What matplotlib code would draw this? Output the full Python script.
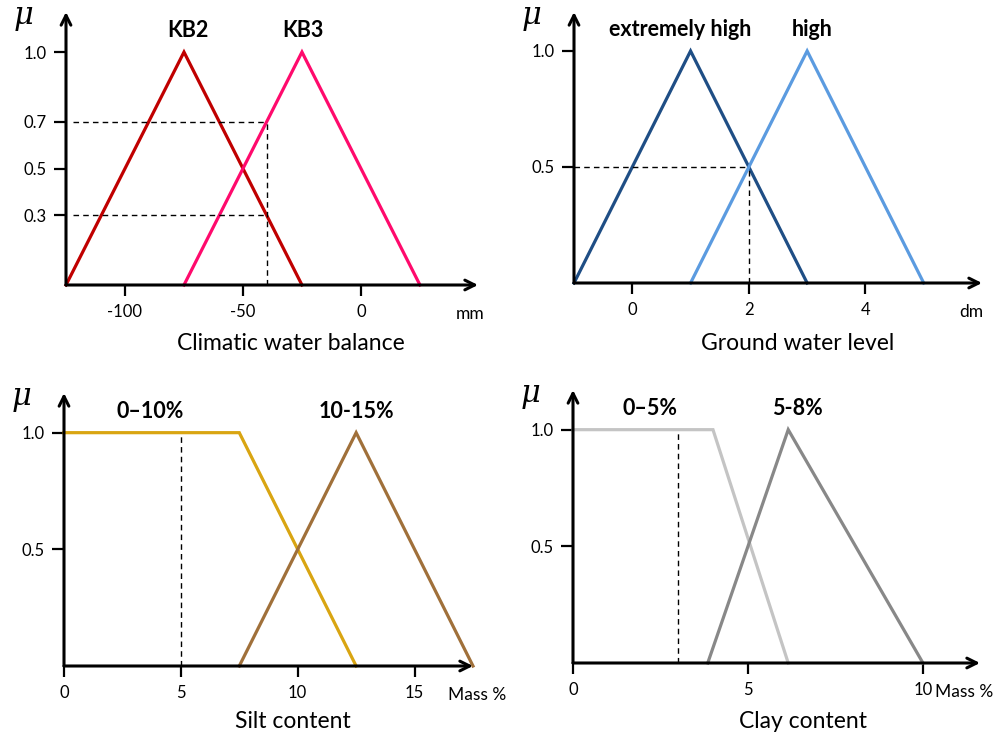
import matplotlib
matplotlib.use("Agg")
import matplotlib.pyplot as plt

plt.rcParams['font.family'] = ['Lato', 'DejaVu Sans']
plt.rcParams['mathtext.fontset'] = 'dejavuserif'

W, H = 1005, 735

# membership functions (x breakpoints, mu values)
cwb_x = [[-125, -75, -25], [-75, -25, 25]]
cwb_mu = [[0, 1, 0], [0, 1, 0]]
cwb_names = ["KB2", "KB3"]
cwb_ticks = [-100, -50, 0]
cwb_yticks = [0.3, 0.5, 0.7, 1.0]

gwl_x = [[-1, 1, 3], [1, 3, 5]]
gwl_mu = [[0, 1, 0], [0, 1, 0]]
gwl_names = ["extremely high", "high"]
gwl_ticks = [0, 2, 4]
gwl_yticks = [0.5, 1.0]

silt_x = [[0, 7.5, 12.5], [7.5, 12.5, 17.5]]
silt_mu = [[1, 1, 0], [0, 1, 0]]
silt_names = ["0\u201310%", "10-15%"]
silt_ticks = [0, 5, 10, 15]
silt_yticks = [0.5, 1.0]

clay_x = [[0, 4.0, 6.15], [3.85, 6.15, 10]]
clay_mu = [[1, 1, 0], [0, 1, 0]]
clay_names = ["0\u20135%", "5-8%"]
clay_ticks = [0, 5, 10]
clay_yticks = [0.5, 1.0]

fig = plt.figure(figsize=(W / 100, H / 100), dpi=100)


def place(left, right, top, bottom):
    return fig.add_axes([left / W, (H - bottom) / H, (right - left) / W, (bottom - top) / H])


def setup(ax, xlim, ylim, xt, yt, unit, unit_x, unit_ha='left'):
    ax.set_xlim(*xlim)
    ax.set_ylim(*ylim)
    for s in ax.spines.values():
        s.set_visible(False)
    ax.set_xticks(xt)
    ax.set_xticklabels([str(v) for v in xt])
    ax.set_yticks(yt)
    ax.set_yticklabels([f"{v:.1f}" for v in yt])
    ax.tick_params(axis='x', direction='out', length=8, width=1.6, pad=6, labelsize=12, colors='black')
    ax.tick_params(axis='y', direction='out', length=9, width=1.6, pad=5, labelsize=12)
    ax.patch.set_alpha(0)
    kw = dict(arrowstyle='->,head_length=0.7,head_width=0.35', lw=2.2, color='black', shrinkA=0, shrinkB=0)
    ax.annotate('', xy=(1, 0), xytext=(0, 0), xycoords='axes fraction', arrowprops=kw, annotation_clip=False)
    ax.annotate('', xy=(0, 1), xytext=(0, 0), xycoords='axes fraction', arrowprops=kw, annotation_clip=False)
    ax.annotate(r'$\mu$', xy=(0, 1), xycoords='axes fraction', xytext=(-31, -5),
                textcoords='offset points', ha='center', va='center', fontsize=22, annotation_clip=False)
    ax.annotate(unit, xy=(unit_x, 0), xycoords='axes fraction', xytext=(0, -21),
                textcoords='offset points', ha=unit_ha, va='center', fontsize=12.5, annotation_clip=False)


def curves(ax, xs, mus, names, colors, name_dx, name_y=1.094):
    for x, m, c in zip(xs, mus, colors):
        ax.plot(x, m, color=c, lw=2.3, solid_joinstyle='miter', clip_on=False)
    for x, m, n, dx in zip(xs, mus, names, name_dx):
        ax.text(x[1] + dx, name_y, n, ha='center', va='center', fontsize=15.5, fontweight='bold')


dash = dict(color='black', lw=1.0, ls=(0, (4, 3)))

# Climatic water balance
ax1 = place(66, 478, 12, 285)
setup(ax1, (-125, 49.6), (0, 1.172), cwb_ticks, cwb_yticks, 'mm', 0.945)
curves(ax1, cwb_x, cwb_mu, cwb_names, ['#c00000', '#ff0a6c'], [1.5, 0.5])
ax1.plot([-122, -40], [0.7, 0.7], **dash)
ax1.plot([-122, -40], [0.3, 0.3], **dash)
ax1.plot([-40, -40], [0, 0.7], **dash)
fig.text(291 / W, 1 - 343 / H, 'Climatic water balance', ha='center', va='center', fontsize=16.5)

# Ground water level
ax2 = place(574, 982, 12, 283)
setup(ax2, (-1, 6.0), (0, 1.168), gwl_ticks, gwl_yticks, 'dm', 0.945)
curves(ax2, gwl_x, gwl_mu, gwl_names, ['#1f4e85', '#5b9be0'], [-0.17, 0.09])
ax2.plot([-1, 2], [0.5, 0.5], **dash)
ax2.plot([2, 2], [0, 0.5], **dash)
fig.text(798 / W, 1 - 343 / H, 'Ground water level', ha='center', va='center', fontsize=16.5)

# Silt content
ax3 = place(64, 473, 393, 666)
setup(ax3, (0, 17.5), (0, 1.17), silt_ticks, silt_yticks, 'Mass %', 0.94)
curves(ax3, silt_x, silt_mu, silt_names, ['#d9a512', '#a0703a'], [-3.8, 0.0], name_y=1.09)
ax3.plot([5, 5], [0, 1], **dash)
fig.text(293 / W, 1 - 722 / H, 'Silt content', ha='center', va='center', fontsize=16.5)

# Clay content
ax4 = place(573, 980, 390, 663)
setup(ax4, (0, 11.63), (0, 1.17), clay_ticks, clay_yticks, 'Mass %', 0.89)
curves(ax4, clay_x, clay_mu, clay_names, ['#c4c4c4', '#888888'], [-1.8, 0.25], name_y=1.09)
ax4.plot([3, 3], [0, 1], **dash)
fig.text(803 / W, 1 - 722 / H, 'Clay content', ha='center', va='center', fontsize=16.5)

fig.savefig('out.png', dpi=100)
